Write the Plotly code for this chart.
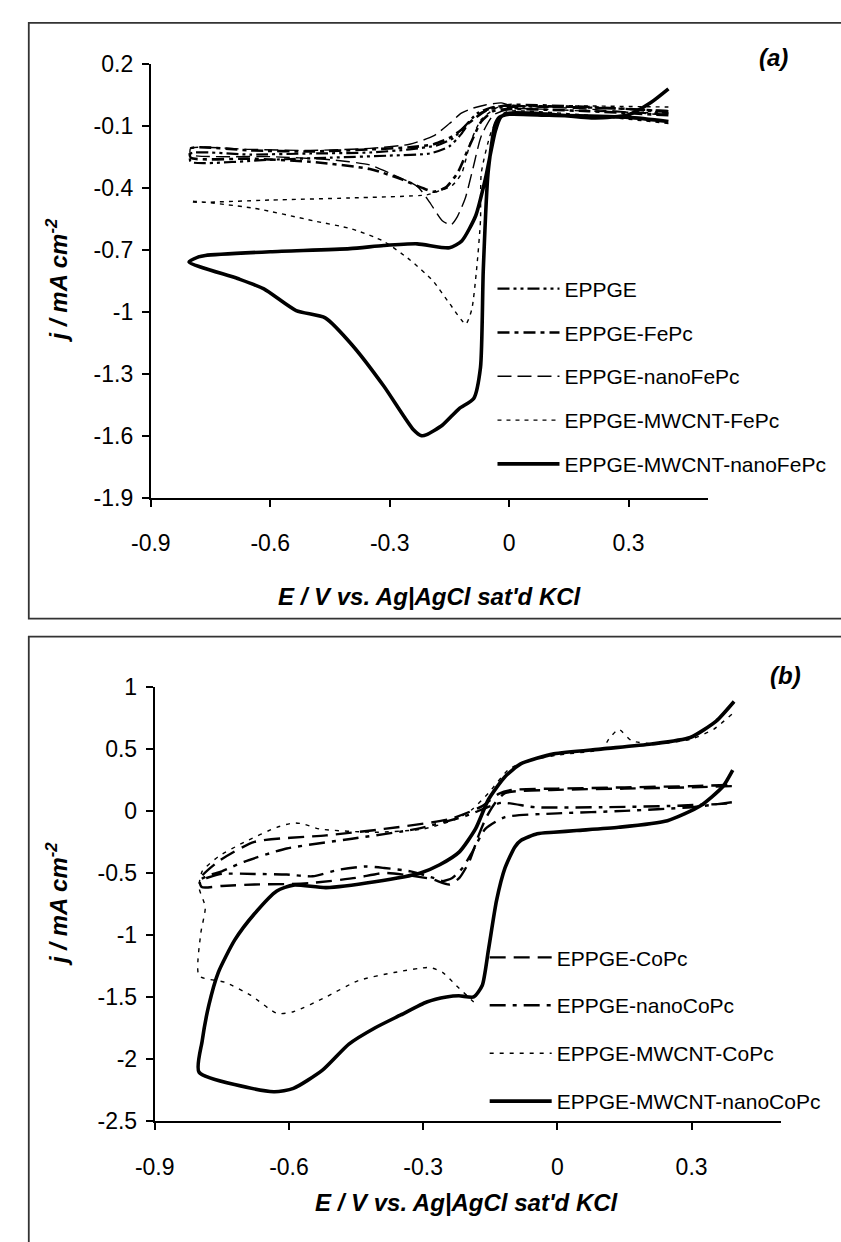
import plotly.graph_objects as go

W, H = 841, 1242

# ---------------- Panel (a) data ----------------
a_names = ["EPPGE", "EPPGE-FePc", "EPPGE-nanoFePc", "EPPGE-MWCNT-FePc", "EPPGE-MWCNT-nanoFePc"]

a_eppge_x = [0.40, 0.30, 0.15, 0.0, -0.05, -0.09, -0.12, -0.15, -0.20, -0.30, -0.45, -0.60, -0.80,
             -0.80, -0.65, -0.50, -0.35, -0.25, -0.18, -0.14, -0.11, -0.08, -0.04, 0.0, 0.15, 0.30, 0.40]
a_eppge_y = [-0.03, -0.02, -0.01, -0.01, -0.02, -0.06, -0.14, -0.20, -0.235, -0.245, -0.255, -0.265, -0.275,
             -0.235, -0.24, -0.235, -0.23, -0.215, -0.195, -0.16, -0.10, -0.04, -0.01, -0.005, -0.01, -0.02, -0.04]

a_fepc_x = [0.40, 0.20, 0.0, -0.04, -0.07, -0.10, -0.13, -0.16, -0.19, -0.22, -0.27, -0.35, -0.50, -0.65, -0.80,
            -0.80, -0.65, -0.50, -0.35, -0.25, -0.19, -0.15, -0.12, -0.09, -0.06, -0.03, 0.0, 0.20, 0.40]
a_fepc_y = [-0.05, -0.03, -0.02, -0.03, -0.08, -0.20, -0.33, -0.40, -0.42, -0.40, -0.36, -0.31, -0.275, -0.26, -0.255,
            -0.21, -0.22, -0.225, -0.215, -0.205, -0.19, -0.16, -0.12, -0.07, -0.03, -0.01, 0.0, -0.01, -0.03]

a_nano_x = [0.40, 0.20, 0.0, -0.04, -0.07, -0.09, -0.11, -0.13, -0.146, -0.168, -0.20, -0.23, -0.30, -0.35, -0.45,
            -0.60, -0.80, -0.80, -0.65, -0.50, -0.35, -0.25, -0.19, -0.15, -0.12, -0.09, -0.06, -0.02, 0.0, 0.2, 0.4]
a_nano_y = [-0.04, -0.03, -0.02, -0.05, -0.15, -0.30, -0.45, -0.54, -0.58, -0.56, -0.47, -0.395, -0.33, -0.29, -0.265,
            -0.25, -0.24, -0.21, -0.215, -0.22, -0.21, -0.19, -0.15, -0.09, -0.04, -0.015, 0.0, 0.01, 0.0, -0.02, -0.05]

a_mw_x = [0.40, 0.20, 0.0, -0.021, -0.045, -0.07, -0.072, -0.082, -0.094, -0.109, -0.15, -0.192, -0.249, -0.315,
          -0.395, -0.493, -0.64, -0.80, -0.795, -0.60, -0.40, -0.207, -0.182, -0.143, -0.119, -0.097, -0.07,
          -0.028, 0.0, 0.2, 0.4]
a_mw_y = [-0.09, -0.05, -0.03, -0.05, -0.13, -0.33, -0.56, -0.80, -0.99, -1.06, -0.96, -0.85, -0.75, -0.66,
          -0.60, -0.56, -0.50, -0.465, -0.47, -0.46, -0.45, -0.435, -0.42, -0.39, -0.33, -0.18, -0.07,
          -0.01, -0.005, -0.005, -0.01]

a_mwnano_x = [0.40, 0.30, 0.10, 0.0, -0.025, -0.036, -0.053, -0.065, -0.072, -0.089, -0.126, -0.168, -0.207,
              -0.22, -0.241, -0.315, -0.395, -0.462, -0.535, -0.616, -0.682, -0.804, -0.78, -0.763, -0.60,
              -0.40, -0.315, -0.231, -0.15, -0.119, -0.084, -0.060, -0.035, -0.021, 0.0, 0.094, 0.217,
              0.298, 0.356, 0.40]
a_mwnano_y = [-0.08, -0.06, -0.05, -0.045, -0.06, -0.10, -0.33, -0.80, -1.27, -1.42, -1.47, -1.55, -1.595,
              -1.60, -1.57, -1.36, -1.16, -1.03, -0.995, -0.89, -0.84, -0.76, -0.735, -0.728, -0.71,
              -0.695, -0.68, -0.672, -0.691, -0.658, -0.536, -0.36, -0.128, -0.058, -0.04, -0.044, -0.063,
              -0.048, 0.012, 0.078]

# ---------------- Panel (b) data ----------------
b_names = ["EPPGE-CoPc", "EPPGE-nanoCoPc", "EPPGE-MWCNT-CoPc", "EPPGE-MWCNT-nanoCoPc"]

b_copc_x = [0.39, 0.30, 0.15, 0.0, -0.117, -0.14, -0.16, -0.176, -0.197, -0.219, -0.241, -0.28, -0.33, -0.387,
            -0.45, -0.547, -0.605, -0.677, -0.75, -0.795, -0.80, -0.758, -0.677, -0.517, -0.387, -0.241,
            -0.168, -0.13, -0.1, 0.0, 0.15, 0.30, 0.39]
b_copc_y = [0.20, 0.19, 0.18, 0.17, 0.144, 0.06, -0.06, -0.197, -0.408, -0.54, -0.593, -0.55, -0.52, -0.50,
            -0.54, -0.58, -0.59, -0.593, -0.605, -0.614, -0.55, -0.408, -0.25, -0.197, -0.145, -0.066,
            0.039, 0.14, 0.17, 0.18, 0.19, 0.20, 0.21]

b_nano_x = [0.39, 0.30, 0.15, 0.0, -0.117, -0.161, -0.19, -0.212, -0.235, -0.256, -0.277, -0.328, -0.387,
            -0.43, -0.488, -0.547, -0.605, -0.677, -0.75, -0.797, -0.78, -0.75, -0.699, -0.605, -0.459,
            -0.314, -0.205, -0.125, -0.05, 0.1, 0.25, 0.39]
b_nano_y = [0.07, 0.03, 0.0, -0.02, -0.05, -0.145, -0.33, -0.46, -0.54, -0.566, -0.54, -0.487, -0.46,
            -0.448, -0.474, -0.527, -0.513, -0.508, -0.508, -0.553, -0.52, -0.487, -0.408, -0.303, -0.224,
            -0.145, -0.04, 0.065, 0.03, 0.03, 0.04, 0.06]

b_mw_x = [0.39, 0.35, 0.30, 0.22, 0.166, 0.137, 0.115, 0.10, 0.0, -0.08, -0.11, -0.154, -0.19, -0.226, -0.299,
          -0.408, -0.532, -0.568, -0.59, -0.627, -0.699, -0.758, -0.794, -0.801, -0.787, -0.797, -0.801,
          -0.743, -0.685, -0.627, -0.59, -0.517, -0.445, -0.365, -0.285, -0.256, -0.226, -0.187]
b_mw_y = [0.78, 0.66, 0.58, 0.54, 0.566, 0.658, 0.579, 0.50, 0.45, 0.39, 0.33, 0.144, 0.013, -0.066, -0.145,
          -0.172, -0.145, -0.105, -0.097, -0.132, -0.25, -0.369, -0.487, -0.618, -0.776, -0.987, -1.329,
          -1.382, -1.487, -1.632, -1.619, -1.50, -1.368, -1.303, -1.263, -1.303, -1.408, -1.54]

b_mwnano_x = [0.392, 0.37, 0.319, 0.246, 0.137, 0.043, -0.008, -0.045, -0.081, -0.095, -0.117, -0.136,
              -0.154, -0.168, -0.187, -0.22, -0.248, -0.292, -0.35, -0.408, -0.466, -0.525, -0.59, -0.634,
              -0.801, -0.794, -0.779, -0.758, -0.721, -0.677, -0.627, -0.59, -0.517, -0.408, -0.306,
              -0.263, -0.219, -0.183, -0.154, -0.117, -0.081, -0.008, 0.101, 0.21, 0.297, 0.355, 0.395]
b_mwnano_y = [0.329, 0.197, 0.039, -0.079, -0.132, -0.158, -0.172, -0.184, -0.237, -0.29, -0.46, -0.724,
              -1.119, -1.408, -1.50, -1.49, -1.50, -1.54, -1.645, -1.75, -1.88, -2.09, -2.237, -2.264,
              -2.106, -1.856, -1.566, -1.303, -1.04, -0.829, -0.645, -0.598, -0.618, -0.571, -0.50,
              -0.434, -0.33, -0.145, 0.092, 0.276, 0.381, 0.46, 0.50, 0.539, 0.592, 0.724, 0.882]

x_ticks = [-0.9, -0.6, -0.3, 0, 0.3]
a_yticks = [0.2, -0.1, -0.4, -0.7, -1, -1.3, -1.6, -1.9]
b_yticks = [1, 0.5, 0, -0.5, -1, -1.5, -2, -2.5]

# styles
a_styles = [
    dict(width=2.2, dash="12px,4px,3px,4px,3px,4px"),
    dict(width=2.6, dash="12px,5px,4px,5px"),
    dict(width=1.4, dash="14px,6px"),
    dict(width=1.4, dash="4px,5px"),
    dict(width=3.6, dash="solid"),
]
b_styles = [
    dict(width=2.4, dash="16px,8px"),
    dict(width=2.4, dash="16px,7px,4px,7px"),
    dict(width=1.4, dash="4px,6px"),
    dict(width=3.6, dash="solid"),
]

FONT = "Liberation Sans, Arial, sans-serif"

fig = go.Figure()
a_data = [(a_eppge_x, a_eppge_y), (a_fepc_x, a_fepc_y), (a_nano_x, a_nano_y), (a_mw_x, a_mw_y),
          (a_mwnano_x, a_mwnano_y)]
for i, (name, (xs, ys), st) in enumerate(zip(a_names, a_data, a_styles)):
    fig.add_trace(go.Scatter(x=xs, y=ys, mode="lines", name=name, line=dict(color="black", shape="spline",
                             smoothing=0.6, **st), xaxis="x", yaxis="y", legend="legend",
                             legendgroup="a%d" % i))
b_data = [(b_copc_x, b_copc_y), (b_nano_x, b_nano_y), (b_mw_x, b_mw_y), (b_mwnano_x, b_mwnano_y)]
for i, (name, (xs, ys), st) in enumerate(zip(b_names, b_data, b_styles)):
    fig.add_trace(go.Scatter(x=xs, y=ys, mode="lines", name=name, line=dict(color="black", shape="spline",
                             smoothing=0.6, **st), xaxis="x2", yaxis="y2", legend="legend2",
                             legendgroup="b%d" % i))

def px2x(px):
    return px / W

def py2y(py):
    return 1 - py / H

axis_common = dict(showline=True, linecolor="black", linewidth=2, ticks="outside", ticklen=7,
                   tickwidth=2, tickcolor="black", showgrid=False, zeroline=False,
                   tickfont=dict(family=FONT, size=23, color="black"))

fig.update_layout(
    width=W, height=H, margin=dict(l=0, r=0, t=0, b=0),
    paper_bgcolor="white", plot_bgcolor="white",
    xaxis=dict(domain=[px2x(134), px2x(705)], range=[-0.9, 0.5], tickvals=x_ticks,
               ticktext=[f"{v:g}" for v in x_ticks], anchor="y", ticklabelstandoff=17, **axis_common),
    yaxis=dict(domain=[py2y(495), py2y(51.7)], range=[-1.9, 0.2], tickvals=a_yticks,
               ticktext=[f"{v:g}" for v in a_yticks], anchor="x", ticklabelstandoff=4, **axis_common),
    xaxis2=dict(domain=[px2x(138), px2x(779.6)], range=[-0.9, 0.5], tickvals=x_ticks,
                ticktext=[f"{v:g}" for v in x_ticks], anchor="y2", ticklabelstandoff=17, **axis_common),
    yaxis2=dict(domain=[py2y(1131.7), py2y(688.3)], range=[-2.5, 1], tickvals=b_yticks,
                ticktext=[f"{v:g}" for v in b_yticks], anchor="x2", ticklabelstandoff=4, **axis_common),
    legend=dict(x=px2x(484), y=py2y(261), xanchor="left", yanchor="top", bgcolor="rgba(0,0,0,0)",
                font=dict(family=FONT, size=21, color="black"), itemwidth=62, tracegroupgap=13.5,
                traceorder="grouped"),
    legend2=dict(x=px2x(476), y=py2y(944), xanchor="left", yanchor="top", bgcolor="rgba(0,0,0,0)",
                 font=dict(family=FONT, size=21, color="black"), itemwidth=62, tracegroupgap=17.6,
                 traceorder="grouped"),
    showlegend=True,
)

# frames around panels
fig.add_shape(type="rect", xref="paper", yref="paper", x0=px2x(9), x1=1.02, y0=py2y(618.5), y1=py2y(10),
              line=dict(color="#333333", width=1.8), layer="below")
fig.add_shape(type="rect", xref="paper", yref="paper", x0=px2x(9), x1=1.02, y0=-0.02, y1=py2y(637),
              line=dict(color="#333333", width=1.8), layer="below")

title_font = dict(family=FONT, size=24, color="black")
ann = [
    dict(text="<b><i>E / V vs. Ag|AgCl sat'd KCl</i></b>", x=px2x(420), y=py2y(596)),
    dict(text="<b><i>E / V vs. Ag|AgCl sat'd KCl</i></b>", x=px2x(458), y=py2y(1215)),
    dict(text="<b><i>j / mA cm<sup>-2</sup></i></b>", x=px2x(38), y=py2y(273), textangle=-90),
    dict(text="<b><i>j / mA cm<sup>-2</sup></i></b>", x=px2x(38), y=py2y(910), textangle=-90),
    dict(text="<b><i>(a)</i></b>", x=px2x(772), y=py2y(45)),
    dict(text="<b><i>(b)</i></b>", x=px2x(784), y=py2y(677)),
]
for a in ann:
    fig.add_annotation(xref="paper", yref="paper", showarrow=False, xanchor="center", yanchor="middle",
                       font=title_font, **a)

fig.write_html("out.html")
